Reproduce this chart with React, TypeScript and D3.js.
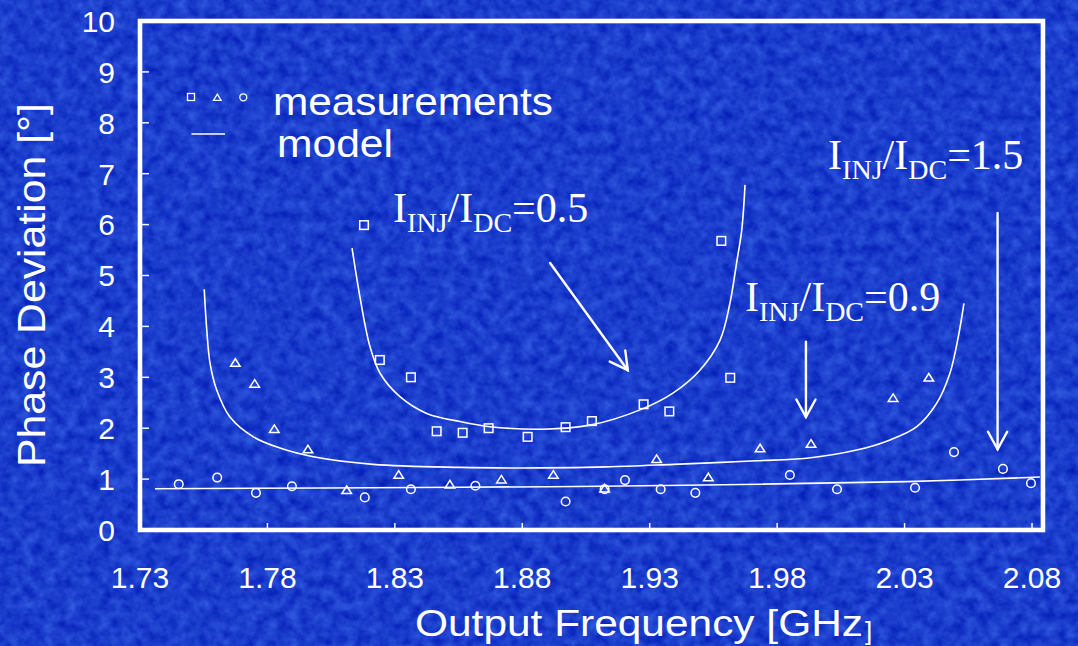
import React, { useEffect } from 'react';
import * as d3 from 'd3';

// ---------- data ----------
const X_TICKS = [1.73, 1.78, 1.83, 1.88, 1.93, 1.98, 2.03, 2.08];
const Y_TICKS = [0, 1, 2, 3, 4, 5, 6, 7, 8, 9, 10];

// measurements, I_INJ/I_DC = 0.5 (squares)
const meas05: [number, number][] = [
  [1.8179, 5.99], [1.8241, 3.34], [1.8363, 3.0], [1.8464, 1.94], [1.8566, 1.91],
  [1.8668, 2.0], [1.8821, 1.83], [1.897, 2.02], [1.9073, 2.14], [1.9276, 2.47],
  [1.9377, 2.33], [1.9581, 5.68], [1.9616, 2.99],
];
// measurements, I_INJ/I_DC = 0.9 (triangles)
const meas09: [number, number][] = [
  [1.7674, 3.29], [1.775, 2.88], [1.7827, 1.99], [1.7959, 1.59], [1.8111, 0.79],
  [1.8315, 1.09], [1.8516, 0.9], [1.8718, 1.0], [1.8922, 1.09], [1.9123, 0.82],
  [1.9327, 1.4], [1.953, 1.04], [1.9733, 1.61], [1.9933, 1.7], [2.0255, 2.6],
  [2.0395, 3.0],
];
// measurements, I_INJ/I_DC = 1.5 (circles)
const meas15: [number, number][] = [
  [1.7452, 0.9], [1.7603, 1.03], [1.7755, 0.73], [1.7896, 0.86], [1.8182, 0.64],
  [1.8363, 0.8], [1.8616, 0.87], [1.897, 0.56], [1.9123, 0.8], [1.9203, 0.98],
  [1.9343, 0.8], [1.9479, 0.73], [1.985, 1.08], [2.0035, 0.8], [2.0341, 0.83],
  [2.0494, 1.53], [2.0686, 1.2], [2.0796, 0.92],
];

// model curves
const model05: [number, number][] = [
  [1.8132, 5.54], [1.8163, 4.58], [1.8202, 3.61], [1.8242, 3.08], [1.832, 2.62],
  [1.8425, 2.29], [1.8556, 2.13], [1.8673, 2.03], [1.8881, 1.98], [1.9066, 2.06],
  [1.9262, 2.36], [1.9391, 2.69], [1.9497, 3.14], [1.9576, 3.73], [1.9615, 4.46],
  [1.9641, 5.25], [1.9661, 5.89], [1.9674, 6.78],
];
const model09: [number, number][] = [
  [1.7552, 4.73], [1.7562, 3.93], [1.7575, 3.27], [1.7601, 2.75], [1.7653, 2.22],
  [1.7745, 1.83], [1.7849, 1.61], [1.798, 1.44], [1.8215, 1.29], [1.8556, 1.23],
  [1.8869, 1.22], [1.9131, 1.24], [1.9393, 1.29], [1.972, 1.36], [1.9916, 1.41],
  [2.0112, 1.57], [2.0243, 1.77], [2.0348, 2.03], [2.0426, 2.49], [2.0478, 3.08],
  [2.0511, 3.8], [2.0533, 4.45],
];
const model15: [number, number][] = [
  [1.7359, 0.81], [1.8556, 0.84], [1.9105, 0.86], [1.9733, 0.9], [2.0308, 0.95], [2.0831, 1.04],
];

// annotations (data units)
const LABELS = [
  { ratio: '0.5', f: 1.8293, v: 6.05 },
  { ratio: '0.9', f: 1.9674, v: 4.3 },
  { ratio: '1.5', f: 2.0, v: 7.09 },
];
const ARROWS = [
  { f0: 1.8909, v0: 5.245, f1: 1.9214, v1: 3.14 },
  { f0: 1.9913, v0: 3.7, f1: 1.9913, v1: 2.22 },
  { f0: 2.0665, v0: 6.23, f1: 2.0665, v1: 1.585 },
];

// ---------- layout ----------
const W = 1078;
const H = 646;
const X_FRAME_MAX = 2.0843;
const x = d3.scaleLinear().domain([1.73, 2.08]).range([140, 1032]);
const y = d3.scaleLinear().domain([0, 10]).range([530, 21]);

const SANS = '"Liberation Sans", Arial, sans-serif';
const SERIF = '"Liberation Serif", "Times New Roman", serif';

const line = d3
  .line<[number, number]>()
  .x((d) => x(d[0]))
  .y((d) => y(d[1]))
  .curve(d3.curveCatmullRom.alpha(0.5));

function tri(cx: number, cy: number, w: number, h: number) {
  return `M${cx},${cy - h / 2}L${cx + w / 2},${cy + h / 2}L${cx - w / 2},${cy + h / 2}Z`;
}

function Ratio({ ratio, px, py }: { ratio: string; px: number; py: number }) {
  return (
    <text x={px} y={py} fontFamily={SERIF} fontSize={42} fill="#fff">
      I
      <tspan fontSize={28} dy={10}>INJ</tspan>
      <tspan fontSize={42} dy={-10}>/I</tspan>
      <tspan fontSize={28} dy={10}>DC</tspan>
      <tspan fontSize={42} dy={-10}>={ratio}</tspan>
    </text>
  );
}

function Arrow({ a }: { a: { f0: number; v0: number; f1: number; v1: number } }) {
  const x0 = x(a.f0), y0 = y(a.v0), x1 = x(a.f1), y1 = y(a.v1);
  const ang = Math.atan2(y1 - y0, x1 - x0);
  const L = 20, spread = 0.5;
  const w1 = [x1 - L * Math.cos(ang - spread), y1 - L * Math.sin(ang - spread)];
  const w2 = [x1 - L * Math.cos(ang + spread), y1 - L * Math.sin(ang + spread)];
  return (
    <g stroke="#fff" strokeWidth={2.4} fill="none" strokeLinecap="round">
      <line x1={x0} y1={y0} x2={x1} y2={y1} />
      <polyline points={`${w1[0]},${w1[1]} ${x1},${y1} ${w2[0]},${w2[1]}`} />
    </g>
  );
}

export default function App() {
  useEffect(() => {
    document.body.style.margin = '0';
    document.body.style.overflow = 'hidden';
  }, []);

  const x0 = x(1.73), x1 = x(X_FRAME_MAX), yTop = y(10), yBot = y(0);

  return (
    <svg
      width={W}
      height={H}
      viewBox={`0 0 ${W} ${H}`}
      style={{ position: 'absolute', left: 0, top: 0, display: 'block' }}
    >
      <defs>
        <filter id="tex" x="0" y="0" width="100%" height="100%" colorInterpolationFilters="sRGB">
          <feTurbulence type="fractalNoise" baseFrequency="0.09" numOctaves={3} seed={7} result="n" />
          <feColorMatrix
            in="n"
            type="matrix"
            values="0.22 0 0 0 -0.005  0.3 0 0 0 0.09  0.2 0 0 0 0.7  0 0 0 0 1"
          />
        </filter>
      </defs>
      <rect x={0} y={0} width={W} height={H} fill="#2447cf" />
      <rect x={0} y={0} width={W} height={H} filter="url(#tex)" />

      {/* frame */}
      <rect x={x0} y={yTop} width={x1 - x0} height={yBot - yTop} fill="none" stroke="#fff" strokeWidth={4.6} />

      {/* ticks */}
      <g stroke="#f4f6ff" strokeWidth={1.5}>
        {Y_TICKS.filter((t) => t > 0 && t < 10).map((t) => (
          <line key={'yt' + t} x1={x0} x2={x0 + 9} y1={y(t)} y2={y(t)} />
        ))}
        {X_TICKS.slice(1).map((t) => (
          <line key={'xt' + t} x1={x(t)} x2={x(t)} y1={yBot} y2={yBot - 7} />
        ))}
      </g>

      {/* tick labels */}
      <g fill="#fff" fontFamily={SANS} fontSize={30}>
        {Y_TICKS.map((t) => (
          <text key={'yl' + t} x={115} y={y(t)} dy="0.36em" textAnchor="end">
            {t}
          </text>
        ))}
        {X_TICKS.map((t) => (
          <text key={'xl' + t} x={x(t)} y={588} textAnchor="middle">
            {t.toFixed(2)}
          </text>
        ))}
      </g>

      {/* axis titles */}
      <text
        transform={`translate(45,285) rotate(-90)`}
        textAnchor="middle"
        fontFamily={SANS}
        fontSize={38}
        fill="#fff"
        textLength={364}
        lengthAdjust="spacingAndGlyphs"
      >
        Phase Deviation [°]
      </text>
      <text x={415} y={636} fontFamily={SANS} fontSize={37} fill="#fff" textLength={448} lengthAdjust="spacingAndGlyphs">
        Output Frequency [GHz
      </text>
      <text x={865} y={640} fontFamily={SANS} fontSize={26} fill="#fff">
        ]
      </text>

      {/* model curves */}
      <g fill="none" stroke="#fff" strokeWidth={1.6}>
        <path d={line(model05) || ''} />
        <path d={line(model09) || ''} />
        <path d={line(model15) || ''} />
      </g>

      {/* measurements */}
      <g fill="none" stroke="#fff" strokeWidth={1.5}>
        {meas05.map((d, i) => (
          <rect key={'s' + i} x={x(d[0]) - 4.3} y={y(d[1]) - 4.3} width={8.6} height={8.6} />
        ))}
        {meas09.map((d, i) => (
          <path key={'t' + i} d={tri(x(d[0]), y(d[1]), 9.6, 7.6)} />
        ))}
        {meas15.map((d, i) => (
          <circle key={'c' + i} cx={x(d[0])} cy={y(d[1])} r={4.3} />
        ))}
      </g>

      {/* legend */}
      <g fill="none" stroke="#fff" strokeWidth={1.3}>
        <rect x={187.5} y={93.5} width={7} height={7} />
        <path d={tri(217.3, 97.3, 7.6, 6.2)} />
        <circle cx={243.3} cy={97.3} r={3.5} />
        <line x1={191.5} x2={225} y1={134} y2={134} strokeWidth={1.6} />
      </g>
      <text x={273} y={115} fontFamily={SANS} fontSize={38} fill="#fff" textLength={280} lengthAdjust="spacingAndGlyphs">
        measurements
      </text>
      <text x={277} y={157} fontFamily={SANS} fontSize={38} fill="#fff" textLength={116} lengthAdjust="spacingAndGlyphs">
        model
      </text>

      {/* annotations */}
      {LABELS.map((l) => (
        <Ratio key={l.ratio} ratio={l.ratio} px={x(l.f)} py={y(l.v)} />
      ))}
      {ARROWS.map((a, i) => (
        <Arrow key={i} a={a} />
      ))}
    </svg>
  );
}
